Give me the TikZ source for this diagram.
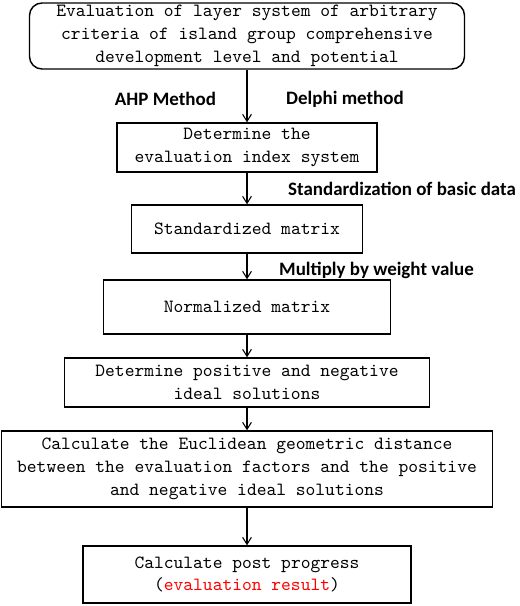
\documentclass[tikz,border=0pt]{standalone}
\usepackage{fontspec}
\usetikzlibrary{arrows.meta}
\newfontfamily\labelfont{Carlito}

\begin{document}
\begin{tikzpicture}[
		stepbox/.style = {draw, thick, align=center, inner sep=0pt,
			font=\ttfamily\fontsize{10.6}{13}\selectfont},
		methodlabel/.style = {font=\labelfont\bfseries\fontsize{10.8}{13}\selectfont},
		flow/.style = {semithick, -{Straight Barb[length=4pt,width=5pt]}}
	]
		\useasboundingbox (0,0) rectangle (10.4,-12.12);

		\node[stepbox, rounded corners=0.25cm, minimum width=8.7cm, minimum height=1.32cm] (criteria) at (4.94,-0.72)
			{Evaluation of layer system of arbitrary\\criteria of island group comprehensive\\development level and potential};
		\node[stepbox, minimum width=5.2cm, minimum height=0.98cm] (indexsys) at (4.94,-2.95)
			{Determine the\\evaluation index system};
		\node[stepbox, minimum width=4.62cm, minimum height=0.96cm] (stdmatrix) at (4.94,-4.58)
			{Standardized matrix};
		\node[stepbox, minimum width=5.74cm, minimum height=1.08cm] (normmatrix) at (4.94,-6.14)
			{Normalized matrix};
		\node[stepbox, minimum width=7.3cm, minimum height=0.98cm] (ideal) at (4.94,-7.65)
			{Determine positive and negative\\ideal solutions};
		\node[stepbox, minimum width=9.82cm, minimum height=1.52cm] (distance) at (4.94,-9.38)
			{Calculate the Euclidean geometric distance\\between the evaluation factors and the positive\\and negative ideal solutions};
		\node[stepbox, minimum width=6.56cm, minimum height=1.14cm] (result) at (4.94,-11.49)
			{Calculate post progress\\(\textcolor{red}{evaluation result})};

		\node[methodlabel] (ahp) at (3.31,-1.98) {AHP Method};
		\node[methodlabel] (delphi) at (6.9,-1.98) {Delphi method};
		\node[methodlabel] (standard) at (8.04,-3.78) {Standardization of basic data};
		\node[methodlabel] (weight) at (7.53,-5.4) {Multiply by weight value};

		\draw[flow] (criteria) -- (indexsys);
		\draw[flow] (indexsys) -- (stdmatrix);
		\draw[flow] (stdmatrix) -- (normmatrix);
		\draw[flow] (normmatrix) -- (ideal);
		\draw[flow] (ideal) -- (distance);
		\draw[flow] (distance) -- (result);
	\end{tikzpicture}
\end{document}
